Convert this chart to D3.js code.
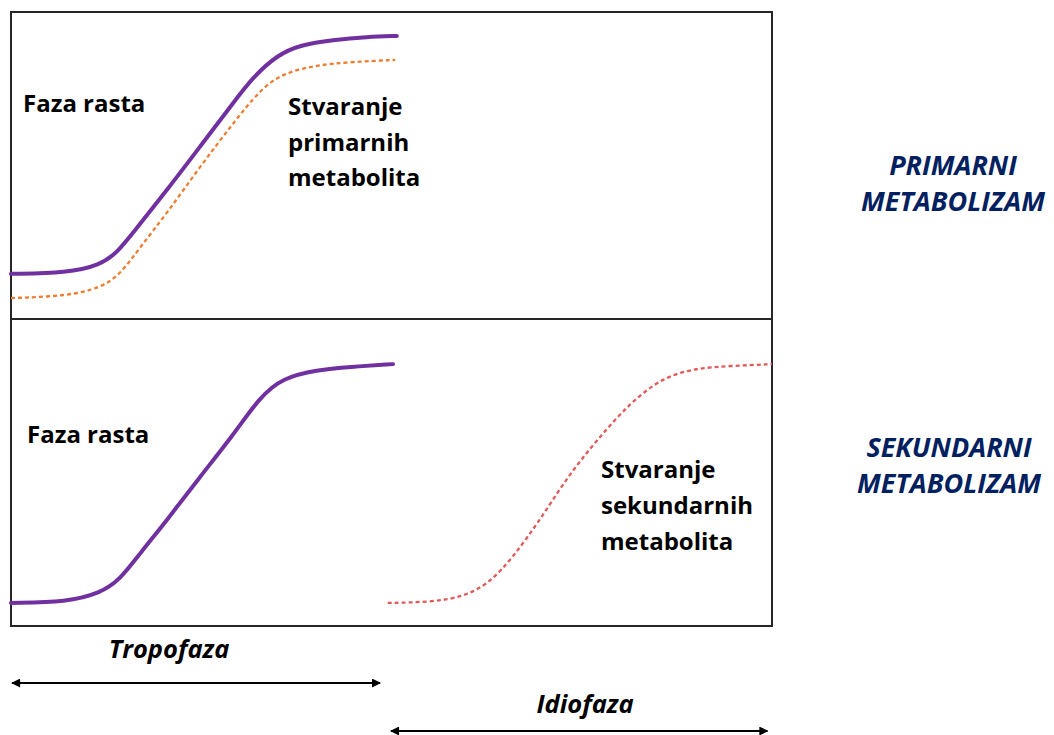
<!DOCTYPE html>
<html>
<head>
<meta charset="utf-8">
<script src="https://cdn.jsdelivr.net/npm/d3@7"></script>
<style>
  body { margin: 0; background: #fff; }
  text { font-family: "Open Sans", Lato, sans-serif; font-weight: bold; }
</style>
</head>
<body>
<div id="chart"></div>
<script>
// time in arbitrary units (0..100), level in % of panel height
const topGrowth = [[0,14.7],[7.4,15.0],[11.7,17.6],[13.9,21.5],[16.0,28.0],[20.5,42.0],[24.8,56.0],[29.2,70.4],[31.8,78.8],[35.0,86.0],[38.0,89.3],[42.3,90.9],[46.8,91.9],[50.7,92.2]];
const topPrimary = [[0,6.8],[7.4,7.5],[11.7,10.1],[14.3,14.3],[17.0,23.5],[20.5,34.5],[24.8,49.5],[29.2,63.8],[32.7,74.6],[35.7,80.1],[40.2,82.7],[44.5,83.7],[50.5,84.4]];
const bottomGrowth = [[0,7.5],[7.4,7.8],[11.7,10.7],[14.3,15.0],[17.0,23.8],[20.5,34.5],[24.8,48.5],[29.2,62.2],[32.7,74.6],[35.7,80.8],[40.2,83.4],[44.5,84.4],[50.2,85.3]];
const bottomSecondary = [[49.5,7.5],[55.1,7.8],[59.4,9.4],[62.9,14.0],[66.0,22.5],[69.5,34.5],[73.1,48.5],[77.0,60.6],[81.3,72.6],[85.7,81.1],[90.1,84.0],[94.5,84.7],[100,85.3]];
const phases = [
  {name: "Tropofaza", from: 0, to: 48.5},
  {name: "Idiofaza", from: 49.8, to: 99.4}
];
const sideLabels = [["PRIMARNI", "METABOLIZAM"], ["SEKUNDARNI", "METABOLIZAM"]];

const width = 1054, height = 735;
const left = 11, right = 772;
const panelTop = [12, 319], panelH = 307;

const svg = d3.select("#chart").append("svg")
    .attr("width", width)
    .attr("height", height);

const x = d3.scaleLinear().domain([0, 100]).range([left, right]);
const yTop = d3.scaleLinear().domain([0, 100]).range([panelTop[0] + panelH, panelTop[0]]);
const yBot = d3.scaleLinear().domain([0, 100]).range([panelTop[1] + panelH, panelTop[1]]);

//panels
panelTop.forEach(t => {
    svg.append("rect")
        .attr("x", left).attr("y", t)
        .attr("width", right - left).attr("height", panelH)
        .attr("fill", "none")
        .attr("stroke", "#262626")
        .attr("stroke-width", 2);
});

function drawCurve(data, y, color, w, dash) {
    const line = d3.line()
        .x(d => x(d[0]))
        .y(d => y(d[1]))
        .curve(d3.curveBasis);
    svg.append("path")
        .datum(data)
        .attr("d", line)
        .attr("fill", "none")
        .attr("stroke", color)
        .attr("stroke-width", w)
        .attr("stroke-linecap", dash ? "butt" : "round")
        .attr("stroke-dasharray", dash || null);
}

drawCurve(topPrimary, yTop, "#ED7D31", 2.3, "4,3");
drawCurve(topGrowth, yTop, "#7030A0", 4);
drawCurve(bottomGrowth, yBot, "#7030A0", 4);
drawCurve(bottomSecondary, yBot, "#E05A5A", 2.3, "4,3");

//labels inside panels
function multiText(lines, x0, y0, lh) {
    const t = svg.append("text")
        .attr("x", x0).attr("y", y0)
        .attr("font-size", 24)
        .attr("fill", "#000");
    lines.forEach((l, i) => {
        t.append("tspan").attr("x", x0).attr("y", y0 + i * lh).text(l);
    });
}
multiText(["Faza rasta"], 23, 112, 0);
multiText(["Stvaranje", "primarnih", "metabolita"], 288, 115, 35.5);
multiText(["Faza rasta"], 27, 443, 0);
multiText(["Stvaranje", "sekundarnih", "metabolita"], 601, 478, 36);

//side labels
const sidePos = [[953, 175], [949, 457]];
sideLabels.forEach((ls, i) => {
    ls.forEach((l, j) => {
        svg.append("text")
            .attr("x", sidePos[i][0]).attr("y", sidePos[i][1] + j * 36)
            .attr("text-anchor", "middle")
            .attr("font-size", 27)
            .attr("font-style", "italic")
            .attr("fill", "#002060")
            .text(l);
    });
});

//phase arrows
const defs = svg.append("defs");
["start", "end"].forEach(k => {
    defs.append("marker")
        .attr("id", "arr-" + k)
        .attr("viewBox", "0 0 10 10")
        .attr("refX", k == "end" ? 9 : 1).attr("refY", 5)
        .attr("markerWidth", 5).attr("markerHeight", 4.5)
        .attr("markerUnits", "strokeWidth")
        .attr("orient", "auto")
        .append("path")
        .attr("d", k == "end" ? "M0,0 L10,5 L0,10 Z" : "M10,0 L0,5 L10,10 Z")
        .attr("fill", "#000");
});

const phaseY = [[658, 683], [713, 731]];
phases.forEach((p, i) => {
    svg.append("line")
        .attr("x1", x(p.from) + 1).attr("x2", x(p.to))
        .attr("y1", phaseY[i][1]).attr("y2", phaseY[i][1])
        .attr("stroke", "#000")
        .attr("stroke-width", 2)
        .attr("marker-start", "url(#arr-start)")
        .attr("marker-end", "url(#arr-end)");
    svg.append("text")
        .attr("x", i == 0 ? 169 : 585).attr("y", phaseY[i][0])
        .attr("text-anchor", "middle")
        .attr("font-size", 25.5)
        .attr("font-style", "italic")
        .attr("fill", "#000")
        .text(p.name);
});
</script>
</body>
</html>
